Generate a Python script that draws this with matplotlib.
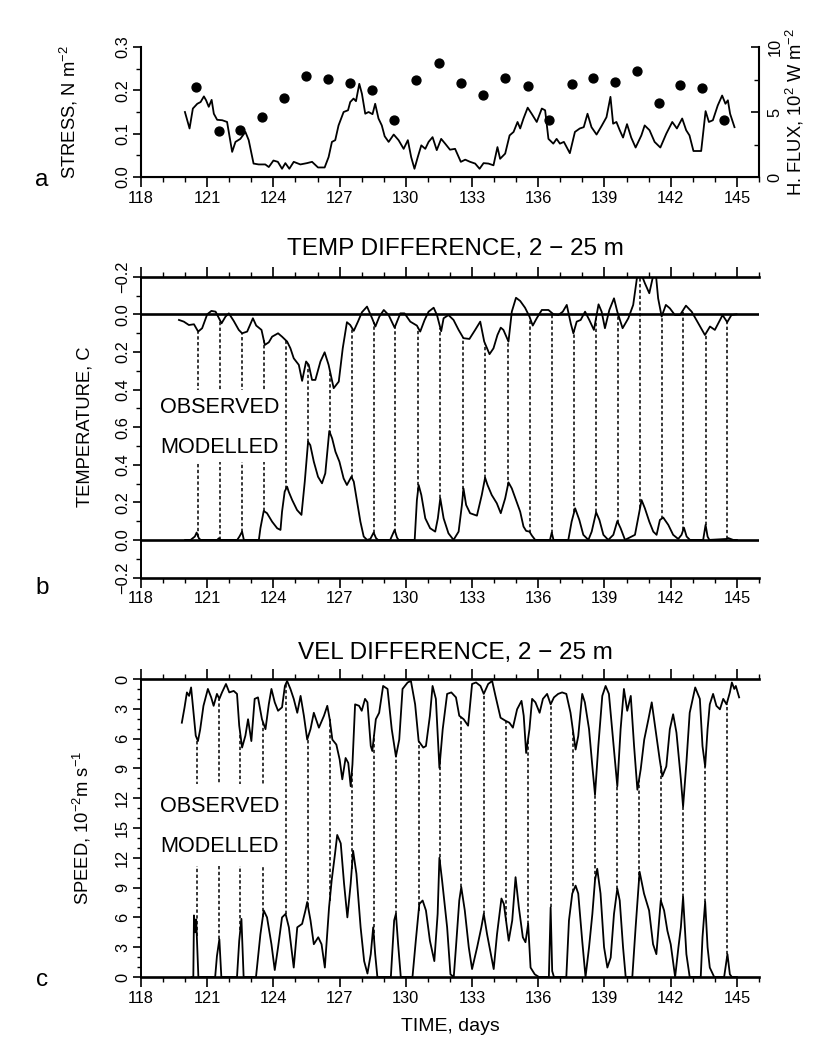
import numpy as np
import matplotlib
matplotlib.use("Agg")
import matplotlib.pyplot as plt
import matplotlib.font_manager as fm
from matplotlib.patches import Rectangle

# ---------------- data ----------------
days_ticks = list(range(118, 146, 3))

stress_pts = [(119.99,0.150),(120.2,0.112),(120.35,0.158),(120.55,0.169),(120.7,0.173),(120.85,0.186),
 (120.95,0.177),(121.07,0.162),(121.2,0.178),(121.3,0.146),(121.45,0.132),(121.68,0.131),(121.9,0.127),
 (122.13,0.058),(122.28,0.081),(122.5,0.088),(122.73,0.104),(122.88,0.085),(123.1,0.031),(123.33,0.029),
 (123.63,0.029),(123.79,0.023),(124.0,0.038),(124.2,0.035),(124.39,0.019),(124.54,0.032),(124.72,0.019),
 (124.92,0.035),(125.22,0.029),(125.52,0.032),(125.75,0.035),(126.02,0.022),(126.32,0.022),(126.5,0.046),
 (126.65,0.081),(126.8,0.085),(126.95,0.119),(127.18,0.150),(127.38,0.154),(127.48,0.173),(127.63,0.181),
 (127.74,0.175),(127.89,0.215),(128.01,0.192),(128.16,0.146),(128.31,0.150),(128.49,0.145),(128.61,0.169),
 (128.76,0.135),(128.91,0.119),(129.04,0.094),(129.22,0.081),(129.45,0.098),(129.67,0.085),(129.9,0.065),
 (130.09,0.085),(130.24,0.046),(130.39,0.019),(130.54,0.046),(130.7,0.073),(130.88,0.065),(131.03,0.081),
 (131.21,0.092),(131.4,0.062),(131.6,0.088),(131.78,0.077),(132.0,0.063),(132.23,0.065),(132.49,0.035),
 (132.69,0.040),(132.91,0.035),(133.14,0.031),(133.34,0.019),(133.52,0.032),(133.74,0.031),(133.97,0.027),
 (134.15,0.069),(134.27,0.042),(134.5,0.054),(134.7,0.096),(134.88,0.104),(135.06,0.127),(135.18,0.112),
 (135.33,0.135),(135.52,0.160),(135.7,0.146),(135.93,0.127),(136.16,0.158),(136.31,0.154),(136.46,0.088),
 (136.68,0.077),(136.83,0.088),(136.98,0.077),(137.16,0.081),(137.43,0.055),(137.66,0.104),(137.88,0.112),
 (138.06,0.115),(138.23,0.146),(138.41,0.115),(138.64,0.098),(138.86,0.117),(139.09,0.138),(139.27,0.185),
 (139.39,0.123),(139.54,0.127),(139.69,0.108),(139.84,0.091),(140.02,0.122),(140.21,0.091),(140.41,0.068),
 (140.67,0.096),(140.82,0.119),(141.04,0.108),(141.27,0.081),(141.53,0.068),(141.8,0.100),(142.07,0.127),
 (142.28,0.112),(142.52,0.135),(142.7,0.108),(142.85,0.096),(143.03,0.060),(143.38,0.060),(143.58,0.152),
 (143.73,0.127),(143.91,0.131),(144.13,0.165),(144.33,0.188),(144.48,0.169),(144.59,0.177),(144.69,0.146),
 (144.89,0.115)]

flux_days = [120.5,121.53,122.5,123.49,124.5,125.48,126.47,127.45,128.46,129.47,130.46,131.5,132.49,
             133.49,134.5,135.52,136.5,137.51,138.49,139.47,140.48,141.46,142.44,143.43,144.41]
flux_vals = [6.92,3.54,3.64,4.62,6.10,7.77,7.51,7.23,6.67,4.41,7.44,8.80,7.23,
             6.28,7.62,7.00,4.36,7.18,7.64,7.31,8.13,5.69,7.08,6.87,4.36]

temp_obs_pts = [(119.72,0.030),(119.94,0.039),(120.17,0.057),(120.4,0.053),(120.59,0.092),(120.77,0.074),
 (121.0,0.0),(121.19,-0.018),(121.38,-0.014),(121.65,0.048),(121.83,0.012),(121.98,-0.005),(122.2,0.035),
 (122.43,0.083),(122.58,0.101),(122.81,0.092),(123.07,0.021),(123.22,0.060),(123.46,0.083),(123.61,0.163),
 (123.79,0.149),(123.94,0.119),(124.21,0.101),(124.39,0.119),(124.62,0.145),(124.77,0.181),(124.92,0.234),
 (125.15,0.269),(125.3,0.354),(125.48,0.251),(125.6,0.269),(125.75,0.349),(125.9,0.349),(126.13,0.251),
 (126.32,0.202),(126.5,0.269),(126.73,0.393),(126.96,0.358),(127.14,0.181),(127.33,0.042),(127.48,0.057),
 (127.64,0.088),(127.83,0.039),(128.01,-0.011),(128.24,-0.041),(128.47,0.021),(128.62,0.065),(128.8,0.012),
 (129.0,-0.023),(129.22,0.004),(129.49,0.071),(129.75,-0.005),(129.94,-0.005),(130.2,0.039),(130.5,0.060),
 (130.65,0.092),(130.85,0.030),(131.03,-0.014),(131.26,-0.035),(131.41,0.004),(131.6,0.090),(131.71,0.021),
 (131.93,0.004),(132.16,0.030),(132.39,0.083),(132.61,0.127),(132.88,0.131),(133.14,0.083),(133.37,0.039),
 (133.55,0.145),(133.79,0.212),(133.97,0.181),(134.15,0.110),(134.3,0.071),(134.42,0.083),(134.65,0.145),
 (134.8,-0.014),(134.99,-0.088),(135.18,-0.071),(135.4,-0.035),(135.6,0.012),(135.75,0.060),(135.93,0.021),
 (136.16,-0.023),(136.46,-0.023),(136.69,0.0),(136.91,0.004),(137.11,-0.014),(137.29,-0.050),(137.47,0.048),
 (137.59,0.101),(137.74,0.039),(137.92,0.030),(138.12,-0.014),(138.31,0.030),(138.52,0.083),(138.73,-0.053),
 (138.87,-0.014),(139.02,0.074),(139.22,-0.023),(139.43,-0.085),(139.58,-0.014),(139.82,0.074),(140.08,0.021),
 (140.3,-0.050),(140.49,-0.210),(140.58,-0.260),(140.68,-0.210),(140.83,-0.165),(141.03,-0.112),(141.21,-0.210),
 (141.27,-0.240),(141.33,-0.210),(141.43,-0.085),(141.59,0.012),(141.78,-0.050),(141.96,-0.032),(142.19,0.004),
 (142.42,0.004),(142.69,-0.046),(142.95,-0.014),(143.25,0.048),(143.55,0.110),(143.78,0.065),(144.0,0.083),
 (144.35,0.004),(144.56,0.042),(144.75,0.004),(144.98,0.0)]

temp_mod_pts = [(120.0,0),(120.25,0),(120.44,0.018),(120.52,0.039),(120.62,0.009),(120.7,0),(121.45,0),
 (121.53,0.009),(121.6,0),(122.36,0),(122.46,0.018),(122.58,0.044),(122.66,0),(123.34,0),(123.41,0.062),
 (123.56,0.154),(123.71,0.142),(123.94,0.097),(124.17,0.062),(124.32,0.053),(124.39,0.150),(124.51,0.257),
 (124.62,0.283),(124.69,0.257),(124.85,0.212),(125.07,0.159),(125.27,0.133),(125.42,0.310),(125.57,0.522),
 (125.67,0.504),(125.83,0.416),(126.02,0.336),(126.2,0.301),(126.35,0.354),(126.53,0.579),(126.66,0.540),
 (126.81,0.469),(126.99,0.416),(127.18,0.327),(127.33,0.292),(127.53,0.336),(127.64,0.310),(127.79,0.204),
 (127.94,0.097),(128.09,0.018),(128.24,0),(128.39,0.005),(128.54,0.039),(128.65,0.009),(128.74,0),(129.29,0),
 (129.49,0.053),(129.6,0.012),(129.67,0),(130.4,0),(130.5,0.212),(130.58,0.292),(130.7,0.239),(130.88,0.115),
 (131.1,0.062),(131.33,0.044),(131.45,0.115),(131.56,0.221),(131.71,0.115),(131.93,0.035),(132.16,0),
 (132.39,0.044),(132.54,0.186),(132.61,0.274),(132.73,0.186),(132.91,0.142),(133.22,0.129),(133.44,0.239),
 (133.59,0.331),(133.7,0.292),(133.89,0.239),(134.12,0.195),(134.3,0.142),(134.5,0.221),(134.65,0.306),
 (134.8,0.274),(134.99,0.212),(135.18,0.150),(135.33,0.071),(135.45,0.048),(135.6,0.044),(135.71,0.023),
 (135.86,0),(136.53,0),(136.61,0.039),(136.69,0),(137.36,0),(137.51,0.097),(137.67,0.168),(137.86,0.106),
 (138.04,0.027),(138.27,0),(138.42,0.044),(138.62,0.147),(138.77,0.106),(138.95,0.027),(139.17,0),
 (139.4,0.027),(139.58,0.100),(139.73,0.062),(139.93,0),(140.38,0.027),(140.58,0.150),(140.68,0.212),
 (140.83,0.168),(141.03,0.097),(141.21,0.044),(141.36,0.027),(141.51,0.106),(141.66,0.119),(141.89,0.080),
 (142.11,0.027),(142.34,0.005),(142.49,0.027),(142.6,0.065),(142.72,0.018),(142.87,0),(143.47,0),
 (143.58,0.080),(143.67,0.018),(143.75,0),(144.53,0.005),(144.6,0.010),(144.83,0),(145.0,0)]

temp_link_days = [120.59,121.6,122.58,123.56,124.57,125.57,126.58,127.56,128.54,129.52,130.55,131.56,
                  132.58,133.59,134.62,135.63,136.61,137.62,138.62,139.63,140.61,141.59,142.57,143.58,144.56]

vel_obs_pts = [(119.85,4.4),(119.97,2.9),(120.08,1.35),(120.18,1.7),(120.27,0.85),(120.38,3.4),(120.48,5.7),
 (120.58,6.25),(120.68,5.1),(120.83,2.7),(121.03,1.0),(121.18,1.85),(121.29,2.7),(121.44,1.5),(121.55,2.0),
 (121.67,1.35),(121.85,0.5),(122.0,1.35),(122.2,1.2),(122.35,1.5),(122.45,4.7),(122.58,6.9),(122.73,5.7),
 (122.85,4.05),(123.0,6.25),(123.15,2.0),(123.3,1.85),(123.48,4.05),(123.64,5.05),(123.79,2.55),(123.91,1.0),
 (124.06,2.35),(124.21,3.2),(124.39,2.85),(124.52,0.7),(124.62,0.2),(124.77,1.0),(124.92,2.0),(125.08,3.4),
 (125.23,1.7),(125.38,3.7),(125.53,6.1),(125.68,5.05),(125.83,3.4),(126.06,4.9),(126.29,3.7),(126.44,2.7),
 (126.55,4.05),(126.67,6.1),(126.85,6.6),(127.0,8.1),(127.12,10.1),(127.27,7.95),(127.39,8.45),(127.5,10.8),
 (127.58,8.6),(127.7,2.55),(127.88,2.7),(128.0,3.2),(128.15,2.0),(128.26,2.35),(128.41,6.75),(128.48,7.25),
 (128.64,4.05),(128.79,3.4),(128.97,0.7),(129.17,1.0),(129.36,5.05),(129.55,7.8),(129.7,6.1),(129.85,1.0),
 (130.08,0.35),(130.23,0.2),(130.42,2.55),(130.58,6.25),(130.79,6.9),(130.91,6.75),(131.09,3.7),(131.21,0.7),
 (131.36,2.0),(131.52,8.95),(131.67,5.05),(131.87,1.5),(132.06,1.35),(132.27,1.85),(132.42,3.7),(132.62,4.05),
 (132.82,4.7),(133.0,0.5),(133.18,0.35),(133.38,0.7),(133.53,1.5),(133.73,0.5),(133.91,0.2),(134.06,1.7),
 (134.29,3.9),(134.51,4.2),(134.69,4.4),(134.85,4.9),(135.04,3.05),(135.24,2.2),(135.34,3.7),(135.45,7.45),
 (135.6,5.05),(135.72,2.0),(135.87,2.35),(136.06,3.4),(136.21,2.0),(136.4,1.5),(136.56,2.55),(136.71,1.85),
 (136.9,1.5),(137.08,1.35),(137.27,1.5),(137.46,3.4),(137.69,7.1),(137.81,5.75),(137.99,1.5),(138.11,2.35),
 (138.3,5.05),(138.45,8.8),(138.57,11.65),(138.72,6.75),(138.9,1.7),(139.05,0.7),(139.2,1.5),(139.38,5.9),
 (139.58,10.8),(139.73,5.05),(139.88,1.0),(140.03,3.2),(140.19,1.7),(140.34,6.75),(140.49,11.15),(140.64,9.1),
 (140.8,6.1),(140.99,4.05),(141.14,2.35),(141.32,5.25),(141.5,8.1),(141.62,9.8),(141.8,8.8),(141.96,5.05),
 (142.11,3.55),(142.26,5.4),(142.46,10.1),(142.56,12.85),(142.71,8.45),(142.86,3.4),(143.11,0.85),(143.32,2.0),
 (143.44,6.75),(143.56,8.8),(143.67,5.05),(143.77,2.55),(143.92,1.5),(144.07,2.7),(144.23,3.05),(144.38,2.0),
 (144.53,2.55),(144.68,1.35),(144.77,0.35),(144.88,1.0),(144.95,0.7),(145.1,1.85)]

vel_mod_pts = [(120.3,0),(120.37,0),(120.4,6.2),(120.45,4.5),(120.5,5.8),(120.55,3.0),(120.6,0),(121.36,0),
 (121.44,2.1),(121.55,3.8),(121.64,0),(122.35,0),(122.45,3.65),(122.55,5.85),(122.65,0),(123.21,0),(123.41,4.3),
 (123.56,6.7),(123.71,6.0),(123.91,3.3),(124.06,0.7),(124.21,3.0),(124.39,6.0),(124.55,6.35),(124.7,5.0),
 (124.92,0.95),(125.08,5.0),(125.3,5.35),(125.45,6.7),(125.53,7.55),(125.68,5.7),(125.83,3.3),(126.03,4.0),
 (126.18,3.3),(126.33,0.95),(126.52,7.0),(126.64,9.75),(126.79,12.4),(126.89,14.3),(127.05,13.45),(127.2,9.4),
 (127.35,6.0),(127.5,9.4),(127.61,12.7),(127.76,10.4),(127.95,5.0),(128.11,1.6),(128.26,0.35),(128.41,2.3),
 (128.52,5.0),(128.61,2.3),(128.71,0),(129.32,0),(129.47,5.7),(129.55,6.35),(129.65,3.3),(129.77,0),(130.3,0),
 (130.45,3.65),(130.61,7.35),(130.76,7.7),(130.91,6.7),(131.09,3.65),(131.29,1.6),(131.44,6.35),(131.52,12.0),
 (131.64,9.75),(131.87,5.0),(132.02,0.27),(132.17,0),(132.27,3.0),(132.42,7.7),(132.51,9.05),(132.67,6.7),
 (132.85,3.0),(133.0,0.8),(133.23,3.0),(133.42,5.0),(133.53,6.35),(133.68,4.3),(133.88,1.95),(133.98,0.8),
 (134.13,4.3),(134.33,7.9),(134.44,7.35),(134.66,3.65),(134.82,5.7),(134.97,10.05),(135.12,7.0),(135.3,4.0),
 (135.42,3.5),(135.54,5.35),(135.65,0.95),(135.84,0.27),(136.03,0),(136.48,0),(136.56,7.0),(136.63,0.6),
 (136.71,0),(137.27,0),(137.39,5.7),(137.54,8.4),(137.69,9.2),(137.81,8.4),(137.99,3.65),(138.14,0),(138.3,3.0),
 (138.45,6.35),(138.57,9.75),(138.67,10.9),(138.82,8.4),(138.98,3.0),(139.13,0.95),(139.28,1.95),(139.43,6.35),
 (139.58,8.9),(139.69,7.7),(139.84,3.0),(139.96,0),(140.26,0),(140.41,5.0),(140.59,10.6),(140.79,8.4),
 (141.02,6.7),(141.2,3.3),(141.35,2.3),(141.55,7.7),(141.7,6.7),(141.85,4.65),(142.0,3.3),(142.2,0),(142.35,3.0),
 (142.46,5.0),(142.56,8.05),(142.71,2.3),(142.86,0),(143.36,0),(143.44,4.0),(143.56,7.55),(143.67,3.0),
 (143.77,0.95),(143.97,0),(144.42,0),(144.57,2.3),(144.68,0.27),(144.77,0),(145.0,0)]

vel_link_days = [120.53,121.55,122.5,123.52,124.55,125.56,126.55,127.55,128.56,129.55,130.58,131.55,
                 132.51,133.53,134.54,135.54,136.56,137.57,138.57,139.58,140.56,141.55,142.56,143.56,144.53]

temp_ticks = [-0.2, 0.0, 0.2, 0.4, 0.6, 0.8, 1.0, 1.2, 1.4]
temp_ticklabels = ["\u22120.2", "0.0", "0.2", "0.4", "0.6", "0.4", "0.2", "0.0", "\u22120.2"]
vel_ticks = list(range(0, 31, 3))
vel_ticklabels = ["0", "3", "6", "9", "12", "15", "12", "9", "6", "3", "0"]

# ---------------- fonts ----------------
names = {f.name for f in fm.fontManager.ttflist}
if 'Liberation Sans Narrow' in names:
    FAM, K = 'Liberation Sans Narrow', 1.2
elif 'Liberation Sans' in names:
    FAM, K = 'Liberation Sans', 1.0
else:
    FAM, K = 'DejaVu Sans', 0.92
plt.rcParams['font.family'] = [FAM, 'DejaVu Sans']
plt.rcParams['mathtext.fontset'] = 'custom'
plt.rcParams['mathtext.rm'] = FAM
plt.rcParams['mathtext.it'] = FAM
plt.rcParams['mathtext.bf'] = FAM
plt.rcParams['axes.unicode_minus'] = True

TICK = 11.8 * K
LAB = 13.2 * K
XLAB = 14 * K
TIT = 17.5 * K
BOX = 15.6 * K
LET = 17.5 * K
LW = 1.3

def pts(p):
    a = np.array(p, dtype=float)
    return a[:, 0], a[:, 1]

W, H = 817, 1037
fig = plt.figure(figsize=(W / 100, H / 100), dpi=100)
L, R = 141, 759
axA = fig.add_axes([L / W, 1 - 177 / H, (R - L) / W, 130 / H])
axB = fig.add_axes([L / W, 1 - 577.5 / H, (R - L) / W, 300.8 / H])
axC = fig.add_axes([L / W, 1 - 977 / H, (R - L) / W, 298 / H])

def xaxis_setup(ax, both=False):
    ax.set_xlim(118, 146)
    ax.set_xticks(days_ticks)
    ax.set_xticks(range(118, 147), minor=True)
    ax.tick_params(axis='x', which='major', length=7, width=1.2, direction='out',
                   labelsize=TICK, pad=3, top=both, bottom=True, labeltop=False)
    ax.tick_params(axis='x', which='minor', length=3.5, width=1.0, direction='out',
                   top=both, bottom=True)

def ylab_rot(ax):
    for t in ax.get_yticklabels():
        t.set_va('center')

# ---------------- panel a ----------------
sd, sv = pts(stress_pts)
axA.plot(sd, sv, color='k', lw=LW)
xaxis_setup(axA)
axA.set_ylim(0, 0.3)
axA.set_yticks([0.0, 0.1, 0.2, 0.3])
axA.set_yticklabels(["0.0", "0.1", "0.2", "0.3"])
axA.set_yticks([0.05, 0.15, 0.25], minor=True)
axA.tick_params(axis='y', which='major', length=6, width=1.2, direction='out', labelsize=TICK,
                labelrotation=90, pad=2)
axA.tick_params(axis='y', which='minor', length=3.5, width=1.0, direction='out')
ylab_rot(axA)
axA.spines['top'].set_visible(False)
axA.spines['right'].set_visible(False)
for s in ('left', 'bottom'):
    axA.spines[s].set_linewidth(1.5)
axA.set_ylabel("STRESS, N m$^{-2}$", fontsize=LAB)
axA.yaxis.set_label_coords((80 - L) / (R - L), 0.5)

axA2 = axA.twinx()
axA2.plot(flux_days, flux_vals, 'o', color='k', ms=6.4)
axA2.set_ylim(0, 10)
axA2.set_yticks([0, 5, 10])
axA2.set_yticks([2.5, 7.5], minor=True)
axA2.tick_params(axis='y', which='major', length=6, width=1.2, direction='in', labelsize=TICK,
                 labelrotation=90, pad=6)
axA2.tick_params(axis='y', which='minor', length=3.5, width=1.0, direction='in')
ylab_rot(axA2)
axA2.spines['top'].set_visible(False)
axA2.spines['left'].set_visible(False)
axA2.spines['right'].set_linewidth(1.5)
axA2.set_ylabel("H. FLUX, 10$^{2}$ W m$^{-2}$", fontsize=LAB)
axA2.yaxis.set_label_coords((784 - L) / (R - L), 0.5)

# ---------------- panel b ----------------
od, ov = pts(temp_obs_pts)
md, mv = pts(temp_mod_pts)
axB.plot(od, 1.2 - ov, color='k', lw=LW, zorder=4)
axB.plot(md, mv, color='k', lw=LW, zorder=4)
axB.axhline(0.0, color='k', lw=1.9, zorder=4)
axB.axhline(1.2, color='k', lw=1.9, zorder=4)
lo = np.interp(temp_link_days, md, mv)
hi = 1.2 - np.interp(temp_link_days, od, ov)
axB.vlines(temp_link_days, lo, hi, colors='k', linestyles=(0, (2.2, 1.6)), lw=1.1, zorder=2)
axB.add_patch(Rectangle((118.3, 0.415), 124.35 - 118.3, 0.80 - 0.415, facecolor='white',
                        edgecolor='none', zorder=3))
axB.text(118.85, 0.703, "OBSERVED", fontsize=BOX, va='center', ha='left', zorder=5)
axB.text(118.85, 0.49, "MODELLED", fontsize=BOX, va='center', ha='left', zorder=5)
xaxis_setup(axB, both=True)
axB.set_ylim(-0.2, 1.4)
axB.set_yticks(temp_ticks)
axB.set_yticklabels(temp_ticklabels)
axB.set_yticks(np.arange(-0.1, 1.4, 0.2), minor=True)
axB.tick_params(axis='y', which='major', length=6, width=1.2, direction='out', labelsize=TICK,
                labelrotation=90, pad=2)
axB.tick_params(axis='y', which='minor', length=3.5, width=1.0, direction='out')
ylab_rot(axB)
axB.spines['right'].set_visible(False)
axB.spines['top'].set_linewidth(1.9)
axB.spines['bottom'].set_linewidth(1.9)
axB.spines['left'].set_linewidth(1.4)
axB.set_ylabel("TEMPERATURE, C", fontsize=LAB)
axB.yaxis.set_label_coords((93 - L) / (R - L), 0.5)
fig.text(455 / W, 1 - 249 / H, "TEMP DIFFERENCE, 2 \u2212 25 m", fontsize=TIT, ha='center', va='center')

# ---------------- panel c ----------------
vod, vov = pts(vel_obs_pts)
vmd, vmv = pts(vel_mod_pts)
axC.plot(vod, 30 - vov, color='k', lw=LW, zorder=4)
axC.plot(vmd, vmv, color='k', lw=LW, zorder=4)
lo = np.interp(vel_link_days, vmd, vmv)
hi = 30 - np.interp(vel_link_days, vod, vov)
axC.vlines(vel_link_days, lo, hi, colors='k', linestyles=(0, (2.2, 1.6)), lw=1.1, zorder=2)
axC.add_patch(Rectangle((118.3, 11.2), 124.2 - 118.3, 19.4 - 11.2, facecolor='white',
                        edgecolor='none', zorder=3))
axC.text(118.85, 17.2, "OBSERVED", fontsize=BOX, va='center', ha='left', zorder=5)
axC.text(118.85, 13.1, "MODELLED", fontsize=BOX, va='center', ha='left', zorder=5)
xaxis_setup(axC, both=True)
axC.set_ylim(0, 30)
axC.set_yticks(vel_ticks)
axC.set_yticklabels(vel_ticklabels)
axC.set_yticks(range(0, 31), minor=True)
axC.tick_params(axis='y', which='major', length=6, width=1.2, direction='out', labelsize=TICK,
                labelrotation=90, pad=2)
axC.tick_params(axis='y', which='minor', length=3, width=1.0, direction='out')
ylab_rot(axC)
axC.spines['right'].set_visible(False)
axC.spines['top'].set_linewidth(1.9)
axC.spines['bottom'].set_linewidth(1.9)
axC.spines['left'].set_linewidth(1.4)
axC.set_ylabel("SPEED, 10$^{-2}$m s$^{-1}$", fontsize=LAB)
axC.yaxis.set_label_coords((93 - L) / (R - L), 0.5)
axC.set_xlabel("TIME, days", fontsize=XLAB, labelpad=9)
fig.text(455 / W, 1 - 653 / H, "VEL DIFFERENCE, 2 \u2212 25 m", fontsize=TIT, ha='center', va='center')

# panel letters
fig.text(42 / W, 1 - 180 / H, "a", fontsize=LET, ha='center', va='center')
fig.text(42 / W, 1 - 588 / H, "b", fontsize=LET, ha='center', va='center')
fig.text(42 / W, 1 - 980 / H, "c", fontsize=LET, ha='center', va='center')

fig.savefig("out.png", dpi=100)
